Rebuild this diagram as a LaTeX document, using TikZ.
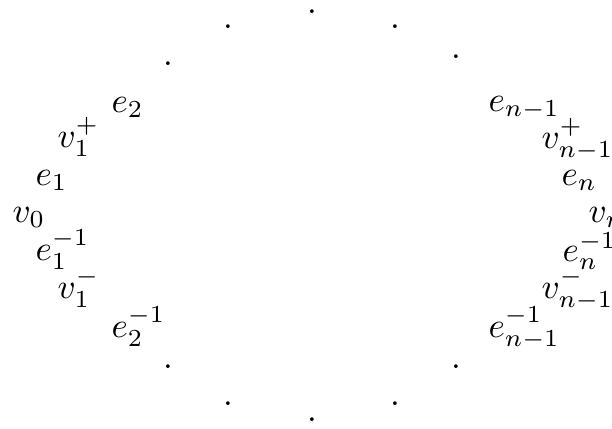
\documentclass[tikz,border=0pt]{standalone}
\begin{document}
\begin{tikzpicture}[x=0.2857pt,y=-0.2857pt,
  lbl/.style={inner sep=0pt,anchor=base west},
  dotm/.style={inner sep=0pt,anchor=base}]
\useasboundingbox (0,0) rectangle (612,428);
% dots
\node[dotm] (d1) at (168,65) {.};
\node[dotm] (d2) at (228,28) {.};
\node[dotm] (d3) at (312,13) {.};
\node[dotm] (d4) at (395,28) {.};
\node[dotm] (d5) at (456,58) {.};
\node[dotm] (d6) at (168,368) {.};
\node[dotm] (d7) at (228,405) {.};
\node[dotm] (d8) at (312,421) {.};
\node[dotm] (d9) at (395,405) {.};
\node[dotm] (d10) at (456,368) {.};
% left labels
\node[lbl] (e2) at (111,112) {$e_2$};
\node[lbl] (v1p) at (57,147) {$v_1^+$};
\node[lbl] (e1) at (35,185) {$e_1$};
\node[lbl] (v0) at (12,222) {$v_0$};
\node[lbl] (e1i) at (35,260) {$e_1^{-1}$};
\node[lbl] (v1m) at (57,298) {$v_1^-$};
\node[lbl] (e2i) at (111,337) {$e_2^{-1}$};
% right labels
\node[lbl] (enm1) at (488,111) {$e_{n-1}$};
\node[lbl] (vnm1p) at (541,148) {$v_{n-1}^+$};
\node[lbl] (en) at (561,185) {$e_n$};
\node[lbl] (vn) at (588,222) {$v_n$};
\node[lbl] (eni) at (562,261) {$e_n^{-1}$};
\node[lbl] (vnm1m) at (541,298) {$v_{n-1}^-$};
\node[lbl] (enm1i) at (488,337) {$e_{n-1}^{-1}$};
\end{tikzpicture}
\end{document}
